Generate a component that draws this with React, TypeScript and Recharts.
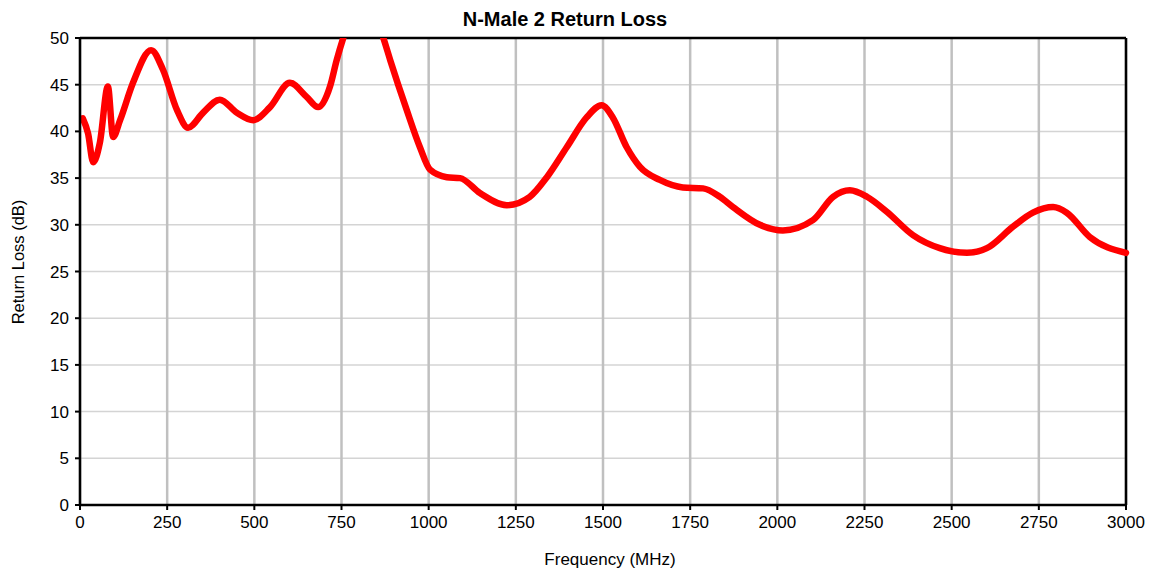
import React from 'react';
import {
    LineChart,
    Line,
    XAxis,
    YAxis,
    CartesianGrid,
    ReferenceLine,
} from 'recharts';

// frequency points (MHz)
const frequencies = [
    8, 23, 38, 57, 80, 95, 115, 152, 204, 238, 278, 310, 353, 401, 450, 497, 545,
    602, 650, 683, 717, 736, 755, 810, 870, 890, 937, 975, 1004, 1052, 1090, 1147,
    1224, 1290, 1339, 1396, 1453, 1496, 1528, 1568, 1606, 1663, 1729, 1787, 1835,
    1873, 1950, 2016, 2102, 2160, 2208, 2257, 2314, 2389, 2466, 2544, 2601, 2676,
    2733, 2791, 2830, 2896, 3000,
];

// return loss (dB) at each frequency
const returnLoss = [
    41.4, 39.8, 36.7, 38.8, 44.8, 39.4, 41.2, 45.2, 48.7, 46.6, 42.3, 40.4, 42.0,
    43.4, 42.0, 41.2, 42.6, 45.2, 43.7, 42.6, 44.8, 47.6, 50.0, 55.0, 50.0, 47.6,
    42.3, 38.3, 35.9, 35.1, 35.0, 33.4, 32.1, 33.0, 35.1, 38.3, 41.5, 42.8, 41.5,
    38.3, 36.2, 34.8, 34.0, 33.9, 33.0, 31.9, 30.0, 29.4, 30.5, 33.0, 33.7, 33.0,
    31.4, 28.9, 27.5, 27.0, 27.5, 29.8, 31.3, 31.9, 31.3, 28.7, 27.0,
];

const xTicks = [0, 250, 500, 750, 1000, 1250, 1500, 1750, 2000, 2250, 2500, 2750, 3000];
const yTicks = [0, 5, 10, 15, 20, 25, 30, 35, 40, 45, 50];

const data = frequencies.map((f, i) => ({ freq: f, loss: returnLoss[i] }));

const font = "'Liberation Sans', Arial, sans-serif";

const App: React.FC = () => {
    return (
        <div
            style={{
                position: 'absolute',
                left: 0,
                top: 0,
                width: 1150,
                height: 571,
                background: '#fff',
                fontFamily: font,
            }}
        >
            <div
                style={{
                    position: 'absolute',
                    left: 0,
                    width: 1130,
                    top: 7,
                    textAlign: 'center',
                    fontWeight: 'bold',
                    fontSize: 20,
                    lineHeight: '24px',
                    color: '#000',
                }}
            >
                N-Male 2 Return Loss
            </div>
            <div
                style={{
                    position: 'absolute',
                    left: 18,
                    top: 262,
                    transform: 'translate(-50%, -50%) rotate(-90deg)',
                    whiteSpace: 'nowrap',
                    fontSize: 16.5,
                    color: '#000',
                }}
            >
                Return Loss (dB)
            </div>
            <div
                style={{
                    position: 'absolute',
                    left: 0,
                    width: 1220,
                    top: 549,
                    textAlign: 'center',
                    fontSize: 17,
                    lineHeight: '22px',
                    color: '#000',
                }}
            >
                Frequency (MHz)
            </div>

            <LineChart
                width={1150}
                height={571}
                data={data}
                margin={{ top: 38, right: 24, bottom: 16, left: 20 }}
            >
                <CartesianGrid
                    horizontal={true}
                    vertical={false}
                    stroke="#d4d4d4"
                    strokeWidth={1.5}
                />
                <CartesianGrid
                    horizontal={false}
                    vertical={true}
                    stroke="#c0c0c0"
                    strokeWidth={2.5}
                />
                <XAxis
                    dataKey="freq"
                    type="number"
                    domain={[0, 3000]}
                    ticks={xTicks}
                    interval={0}
                    height={50}
                    tickSize={5}
                    tickMargin={6}
                    axisLine={{ stroke: '#000', strokeWidth: 2.5 }}
                    tickLine={{ stroke: '#000', strokeWidth: 2 }}
                    tick={{ fill: '#000', fontSize: 17, fontFamily: font }}
                />
                <YAxis
                    type="number"
                    domain={[0, 50]}
                    ticks={yTicks}
                    interval={0}
                    allowDataOverflow={true}
                    width={60}
                    tickSize={5}
                    tickMargin={6}
                    axisLine={{ stroke: '#000', strokeWidth: 2.5 }}
                    tickLine={{ stroke: '#000', strokeWidth: 2 }}
                    tick={{ fill: '#000', fontSize: 17, fontFamily: font }}
                />
                <ReferenceLine y={50} stroke="#000" strokeWidth={2.5} />
                <ReferenceLine x={3000} stroke="#000" strokeWidth={2.5} />
                <Line
                    type="monotone"
                    dataKey="loss"
                    stroke="#ff0000"
                    strokeWidth={6.5}
                    strokeLinecap="round"
                    strokeLinejoin="round"
                    dot={false}
                    activeDot={false}
                    isAnimationActive={false}
                />
            </LineChart>
        </div>
    );
};

export default App;
